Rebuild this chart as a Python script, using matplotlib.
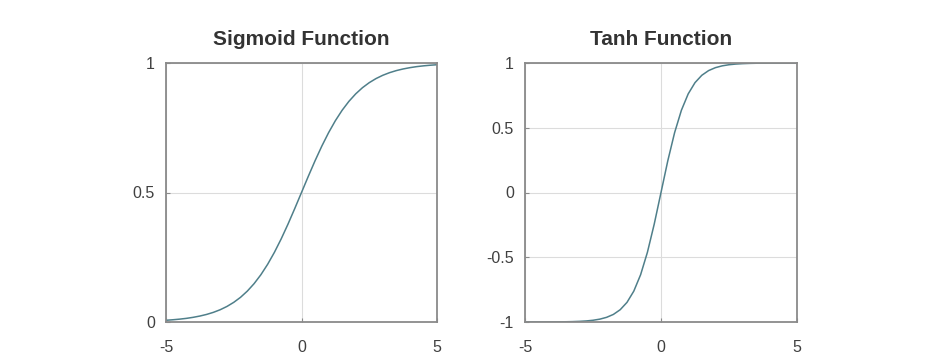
import matplotlib
matplotlib.use("Agg")
import matplotlib.pyplot as plt

x_vals = [-5.0, -4.75, -4.5, -4.25, -4.0, -3.75, -3.5, -3.25, -3.0, -2.75, -2.5,
          -2.25, -2.0, -1.75, -1.5, -1.25, -1.0, -0.75, -0.5, -0.25, 0.0,
          0.25, 0.5, 0.75, 1.0, 1.25, 1.5, 1.75, 2.0, 2.25, 2.5,
          2.75, 3.0, 3.25, 3.5, 3.75, 4.0, 4.25, 4.5, 4.75, 5.0]

sigmoid_vals = [0.0067, 0.0086, 0.0110, 0.0140, 0.0180, 0.0230, 0.0293, 0.0373, 0.0474, 0.0601, 0.0759,
                0.0953, 0.1192, 0.1480, 0.1824, 0.2227, 0.2689, 0.3208, 0.3775, 0.4378, 0.5000,
                0.5622, 0.6225, 0.6792, 0.7311, 0.7773, 0.8176, 0.8520, 0.8808, 0.9047, 0.9241,
                0.9399, 0.9526, 0.9627, 0.9707, 0.9770, 0.9820, 0.9860, 0.9890, 0.9914, 0.9933]

tanh_vals = [-0.9999, -0.9998, -0.9998, -0.9996, -0.9993, -0.9989, -0.9982, -0.9970, -0.9951, -0.9919, -0.9866,
             -0.9780, -0.9640, -0.9414, -0.9051, -0.8483, -0.7616, -0.6351, -0.4621, -0.2449, 0.0,
             0.2449, 0.4621, 0.6351, 0.7616, 0.8483, 0.9051, 0.9414, 0.9640, 0.9780, 0.9866,
             0.9919, 0.9951, 0.9970, 0.9982, 0.9989, 0.9993, 0.9996, 0.9998, 0.9998, 0.9999]

titles = ["Sigmoid Function", "Tanh Function"]
x_ticks = [-5, 0, 5]
x_tick_labels = ["-5", "0", "5"]
sig_yticks = [0, 0.5, 1]
sig_ytick_labels = ["0", "0.5", "1"]
tanh_yticks = [-1, -0.5, 0, 0.5, 1]
tanh_ytick_labels = ["-1", "-0.5", "0", "0.5", "1"]

plt.rcParams['font.family'] = ['Liberation Sans', 'DejaVu Sans']

fig = plt.figure(figsize=(9.33, 3.58), dpi=100)
ax1 = fig.add_axes([166/933, 1-322/358, 271/933, 259/358])
ax2 = fig.add_axes([525/933, 1-322/358, 272/933, 259/358])

line_color = '#4f7f8a'
spine_color = '#8a8a8a'
text_color = '#404040'

configs = [
    (ax1, sigmoid_vals, (0, 1), sig_yticks, sig_ytick_labels, titles[0]),
    (ax2, tanh_vals, (-1, 1), tanh_yticks, tanh_ytick_labels, titles[1]),
]
for ax, yv, ylim, yt, ytl, title in configs:
    ax.plot(x_vals, yv, color=line_color, lw=1.1)
    ax.set_xlim(-5, 5)
    ax.set_ylim(*ylim)
    ax.set_xticks(x_ticks)
    ax.set_xticklabels(x_tick_labels)
    ax.set_yticks(yt)
    ax.set_yticklabels(ytl)
    ax.grid(True, color='#dcdcdc', lw=0.8)
    for s in ax.spines.values():
        s.set_color(spine_color)
        s.set_linewidth(1.3)
    ax.tick_params(direction='in', length=3, color=spine_color, labelsize=11.5,
                   labelcolor=text_color)
    ax.tick_params(axis='x', pad=13)
    ax.tick_params(axis='y', pad=8)
    ax.set_title(title, fontsize=15, fontweight='bold', color='#333333', pad=13)

fig.savefig("out.png", dpi=100, facecolor='white')
